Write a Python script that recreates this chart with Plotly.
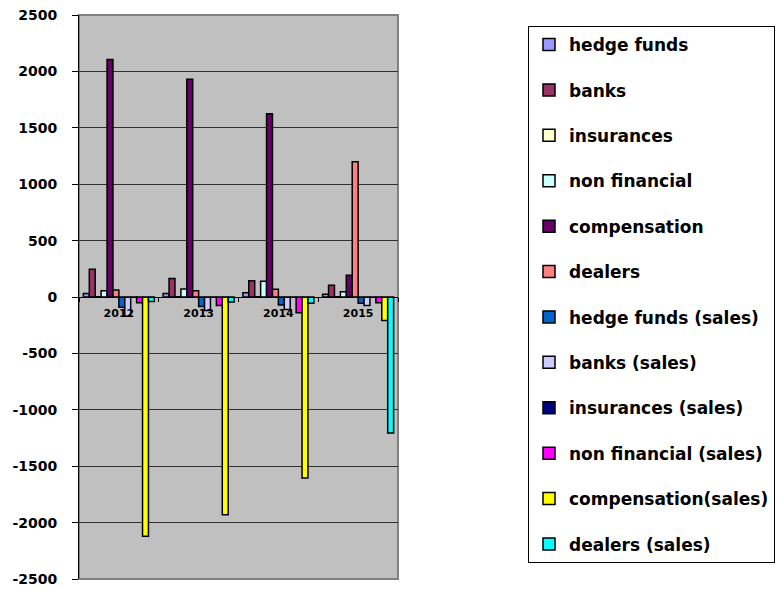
import plotly.graph_objects as go

years = ["2012", "2013", "2014", "2015"]

hedge_funds = [30, 30, 38, 24]
banks = [245, 165, 145, 105]
insurances = [2, 2, 2, 2]
non_financial = [55, 70, 140, 47]
compensation = [2105, 1930, 1625, 192]
dealers = [62, 55, 68, 1200]
hedge_funds_sales = [-90, -85, -70, -56]
banks_sales = [-170, -120, -110, -75]
insurances_sales = [-2, -2, -2, -2]
non_financial_sales = [-50, -75, -140, -52]
compensation_sales = [-2120, -1930, -1605, -208]
dealers_sales = [-40, -45, -55, -1205]

series_names = [
    "hedge funds", "banks", "insurances", "non financial", "compensation",
    "dealers", "hedge funds (sales)", "banks (sales)", "insurances (sales)",
    "non financial (sales)", "compensation(sales)", "dealers (sales)",
]
series_values = [
    hedge_funds, banks, insurances, non_financial, compensation, dealers,
    hedge_funds_sales, banks_sales, insurances_sales, non_financial_sales,
    compensation_sales, dealers_sales,
]
series_colors = [
    "#9999FF", "#993366", "#FFFFCC", "#CCFFFF", "#660066", "#FF8080",
    "#0066CC", "#CCCCFF", "#000080", "#FF00FF", "#FFFF00", "#00FFFF",
]

y_ticks = [2500, 2000, 1500, 1000, 500, 0, -500, -1000, -1500, -2000, -2500]

fig = go.Figure()
for i, (name, vals, col) in enumerate(zip(series_names, series_values, series_colors)):
    fig.add_trace(go.Bar(
        x=years, y=vals, name=name, legendgroup=f"g{i}",
        marker=dict(color=col, line=dict(color="black", width=1.5)),
    ))

W, H = 781, 591
L, R, T, B = 79, 398, 15, 579

fig.update_layout(
    width=W, height=H,
    margin=dict(l=L, r=W - R, t=T, b=H - B, autoexpand=False),
    paper_bgcolor="white",
    plot_bgcolor="#C0C0C0",
    barmode="group",
    bargap=0.11,
    bargroupgap=0,
    showlegend=True,
    legend=dict(
        x=(528 - L) / (R - L), xanchor="left",
        y=1 - (26 - T) / (B - T), yanchor="top",
        bgcolor="white", bordercolor="black", borderwidth=1,
        font=dict(family="DejaVu Sans", size=17, color="black", weight="bold"),
        tracegroupgap=20.3,
        traceorder="grouped",
        entrywidth=260,
    ),
    xaxis=dict(
        anchor="free", position=0.5,
        showline=True, linecolor="black", linewidth=1,
        ticks="outside", tickson="boundaries", ticklen=4, tickcolor="black",
        showgrid=False,
        ticklabelstandoff=6,
        tickfont=dict(family="DejaVu Sans", size=11, color="black", weight="bold"),
    ),
    yaxis=dict(
        range=[-2500, 2500],
        tickvals=y_ticks,
        ticktext=[str(v) for v in y_ticks],
        showline=True, linecolor="black", linewidth=1,
        ticks="outside", ticklen=6, tickcolor="black",
        showgrid=True, gridcolor="#303030", gridwidth=1,
        zeroline=False,
        ticklabelstandoff=12,
        tickfont=dict(family="DejaVu Sans", size=14, color="black", weight="bold"),
    ),
    shapes=[
        dict(type="rect", xref="paper", yref="paper", x0=0, x1=1, y0=0, y1=1,
             line=dict(color="#808080", width=2), layer="below"),
    ],
)

fig.write_html("out.html")
